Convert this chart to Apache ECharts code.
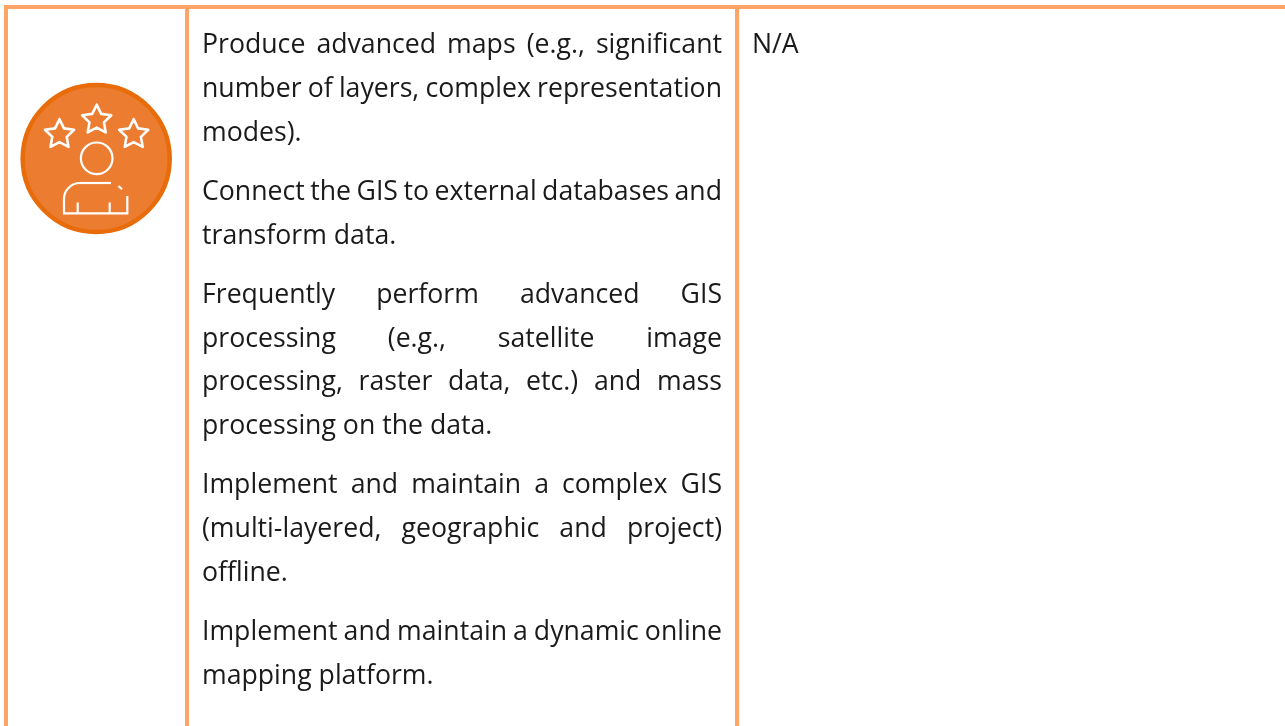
<!DOCTYPE html>
<html>
<head>
<meta charset="utf-8">
<title>GIS skill level</title>
<script src="https://cdn.jsdelivr.net/npm/echarts@6/dist/echarts.min.js"></script>
<style>
  html, body { margin: 0; padding: 0; background: #fff; }
  #main { width: 1285px; height: 726px; }
</style>
</head>
<body>
<div id="main"></div>
<script>
// cell text, one array per paragraph, as the lines break in the picture
const para1 = ['Produce advanced maps (e.g., significant', 'number of layers, complex representation', 'modes).'];
const para2 = ['Connect the GIS to external databases and', 'transform data.'];
const para3 = ['Frequently perform advanced GIS', 'processing (e.g., satellite image', 'processing, raster data, etc.) and mass', 'processing on the data.'];
const para4 = ['Implement and maintain a complex GIS', '(multi-layered, geographic and project)', 'offline.'];
const para5 = ['Implement and maintain a dynamic online', 'mapping platform.'];
const paragraphs = [para1, para2, para3, para4, para5];
const lastColumnText = ['N/A'];

const FONT_SIZE = 26.67;
const FONT_FAMILY = '"Open Sans"';
const TEXT_COLOR = '#1a1a1a';
const BORDER_COLOR = '#ffa366';

const canvasW = 1285;
const canvasH = 726;
const textLeft = 202;
const textRight = 722;
const firstLineBottom = 59.2;
const linePitch = 43.7;
const paraGap = 59.3;

const measure = document.createElement('canvas').getContext('2d');
measure.font = FONT_SIZE + 'px ' + FONT_FAMILY;

function word(text, x, y) {
  return {
    type: 'text', silent: true, x: x, y: y,
    style: { text: text, x: 0, y: 0, fill: TEXT_COLOR, font: FONT_SIZE + 'px ' + FONT_FAMILY, textAlign: 'left', textVerticalAlign: 'bottom' }
  };
}

// justified cell: every line but the last in a paragraph gets stretched to the cell width
function textElements() {
  const out = [];
  let y = firstLineBottom;
  paragraphs.forEach(function (lines) {
    lines.forEach(function (line, i) {
      const words = line.split(' ');
      const isLast = i === lines.length - 1;
      const widths = words.map(function (w) { return measure.measureText(w).width; });
      const total = widths.reduce(function (a, b) { return a + b; }, 0);
      const gap = isLast ? measure.measureText(' ').width : (textRight - textLeft - total) / (words.length - 1);
      let x = textLeft;
      words.forEach(function (w, j) {
        out.push(word(w, x, y));
        x += widths[j] + gap;
      });
      y += isLast ? paraGap : linePitch;
    });
  });
  lastColumnText.forEach(function (t) { out.push(word(t, 752, firstLineBottom)); });
  return out;
}

function borders() {
  const lineStyle = { fill: BORDER_COLOR };
  const rect = function (x, y, w, h) {
    return { type: 'rect', silent: true, shape: { x: x, y: y, width: w, height: h }, style: lineStyle };
  };
  return [
    rect(4, 5, canvasW - 4, 4),
    rect(4, 5, 4, canvasH - 5),
    rect(185, 5, 4, canvasH - 5),
    rect(735, 5, 4, canvasH - 5)
  ];
}

function star(cx, cy) {
  const pts = [];
  for (let i = 0; i < 10; i++) {
    const r = i % 2 === 0 ? 15.3 : 7.6;
    const a = -Math.PI / 2 + i * Math.PI / 5;
    pts.push([cx + r * Math.cos(a), cy + r * Math.sin(a)]);
  }
  return { type: 'polygon', silent: true, shape: { points: pts }, style: { fill: 'none', stroke: '#fff', lineWidth: 2.6, lineJoin: 'round' } };
}

function badge() {
  const white = { fill: 'none', stroke: '#fff', lineWidth: 2.2 };
  const cx = 96.2, cy = 158.5;
  const poly = function (pts) {
    return { type: 'polyline', silent: true, shape: { points: pts }, style: white };
  };
  return [
    { type: 'circle', silent: true, shape: { cx: cx, cy: cy, r: 73.5 }, style: { fill: '#ec7c30', stroke: '#e96c0a', lineWidth: 4.5 } },
    star(96.7, 120), star(59.5, 134.5), star(133.7, 134.5),
    { type: 'circle', silent: true, shape: { cx: 96.7, cy: 158.3, r: 15.8 }, style: white },
    poly([[111, 183], [80, 183]]),
    { type: 'arc', silent: true, shape: { cx: 80, cy: 199, r: 16, startAngle: Math.PI, endAngle: Math.PI * 1.5, clockwise: true }, style: white },
    poly([[64, 199], [64, 213.3], [127.3, 213.3], [127.3, 196]]),
    poly([[118.5, 186], [122, 189.3]]),
    poly([[77.7, 202.5], [77.7, 213.3]]),
    poly([[109.7, 202.5], [109.7, 213.3]])
  ];
}

const myChart = echarts.init(document.getElementById('main'), null, { renderer: 'canvas' });
myChart.setOption({
  backgroundColor: '#fff',
  animation: false,
  graphic: { elements: borders().concat(badge(), textElements()) }
});
</script>
</body>
</html>
